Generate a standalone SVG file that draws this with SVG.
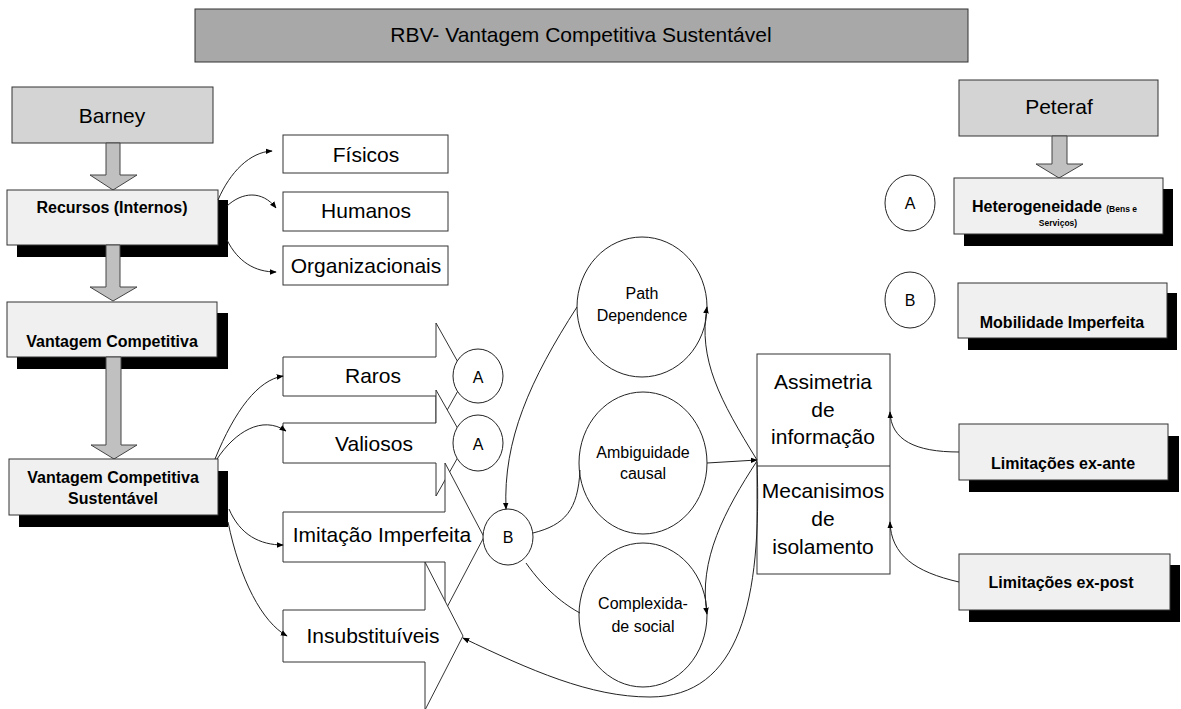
<svg xmlns="http://www.w3.org/2000/svg" width="1181" height="709" viewBox="0 0 1181 709">
<style>
text{font-family:"Liberation Sans",Arial,sans-serif;fill:#000;text-anchor:middle}
.n{font-size:21px}
.m{font-size:16px}
.b{font-size:16px;font-weight:bold}
.hdr{fill:#d4d4d4;stroke:#333;stroke-width:1}
.box{fill:#f0f0f0;stroke:#333;stroke-width:1}
.sh{fill:#000}
.wb{fill:#fff;stroke:#333;stroke-width:1}
.ba{fill:#c0c0c0;stroke:#444;stroke-width:1}
.ar{fill:#fff;stroke:#333;stroke-width:1}
.c{fill:#fff;stroke:#222;stroke-width:1}
.l{fill:none;stroke:#222;stroke-width:1;marker-end:url(#ah)}
.p{fill:none;stroke:#222;stroke-width:1}
</style>
<defs>
<marker id="ah" viewBox="0 0 10 10" refX="9" refY="5" markerWidth="7" markerHeight="7" markerUnits="userSpaceOnUse" orient="auto">
<path d="M0,1 L10,5 L0,9 Z" fill="#000"/>
</marker>
</defs>

<g id="title">
<rect x="195" y="9" width="773" height="53" fill="#a8a8a8" stroke="#333"/>
<text class="n" x="581" y="42">RBV- Vantagem Competitiva Sustentável</text>
</g>

<g id="barney">
<rect class="hdr" x="12" y="87" width="201" height="56"/>
<text class="n" x="112" y="123">Barney</text>
</g>
<path id="ba1" class="ba" d="M106,143 L120,143 L120,175 L137,175 L113,190 L90,175 L106,175 Z"/>

<g id="recursos">
<rect class="sh" x="17" y="200" width="211" height="57"/>
<rect class="box" x="7" y="190" width="211" height="55"/>
<text class="b" x="112" y="213">Recursos (Internos)</text>
</g>
<path id="ba2" class="ba" d="M106,245 L120,245 L120,287 L137,287 L113,301 L90,287 L106,287 Z"/>

<g id="vantagem">
<rect class="sh" x="17" y="313" width="211" height="56"/>
<rect class="box" x="7" y="302" width="210" height="55"/>
<text class="b" x="112" y="347">Vantagem Competitiva</text>
</g>
<path id="ba3" class="ba" d="M106,357 L121,357 L121,445 L137,445 L114,459 L91,445 L106,445 Z"/>

<g id="vcs">
<rect class="sh" x="19" y="471" width="209" height="56"/>
<rect class="box" x="9" y="459" width="209" height="56"/>
<text class="b" x="113" y="483">Vantagem Competitiva</text>
<text class="b" x="113" y="504">Sustentável</text>
</g>

<g id="fisicos"><rect class="wb" x="283" y="135" width="165" height="38"/><text class="n" x="366" y="162">Físicos</text></g>
<g id="humanos"><rect class="wb" x="283" y="192" width="165" height="39"/><text class="n" x="366" y="218">Humanos</text></g>
<g id="organizacionais"><rect class="wb" x="283" y="246" width="165" height="39"/><text class="n" x="366" y="273">Organizacionais</text></g>

<g id="raros"><path class="ar" d="M283,357 L436,357 L436,323 L466,376.5 L436,430 L436,396 L283,396 Z"/><text class="n" x="373" y="383">Raros</text></g>
<g id="valiosos"><path class="ar" d="M283,423 L436,423 L436,390 L466,443 L436,496 L436,463 L283,463 Z"/><text class="n" x="374" y="451">Valiosos</text></g>
<g id="imitacao"><path class="ar" d="M283,512 L445,512 L445,463 L484,537 L445,611 L445,562 L283,562 Z"/><text class="n" x="382" y="542">Imitação Imperfeita</text></g>
<g id="insubstituiveis"><path class="ar" d="M283,610 L425,610 L425,562 L463,636 L425,710 L425,662 L283,662 Z"/><text class="n" x="373" y="643">Insubstituíveis</text></g>

<g id="a1"><ellipse class="c" cx="478" cy="376" rx="25" ry="27"/><text class="m" x="478" y="383">A</text></g>
<g id="a2"><ellipse class="c" cx="478" cy="443" rx="25" ry="28"/><text class="m" x="478" y="450">A</text></g>
<g id="b1"><ellipse class="c" cx="508" cy="537" rx="25" ry="28"/><text class="m" x="508" y="543">B</text></g>

<g id="path-dependence"><ellipse class="c" cx="642" cy="307" rx="65" ry="70"/><text class="m" x="642" y="299">Path</text><text class="m" x="642" y="321">Dependence</text></g>
<g id="ambiguidade"><ellipse class="c" cx="643" cy="463" rx="64" ry="71"/><text class="m" x="643" y="458">Ambiguidade</text><text class="m" x="643" y="479">causal</text></g>
<g id="complexidade"><ellipse class="c" cx="643" cy="615" rx="64" ry="72"/><text class="m" x="643" y="609">Complexida-</text><text class="m" x="643" y="632">de social</text></g>

<g id="assimetria">
<rect class="wb" x="757" y="354" width="133" height="220"/>
<line x1="757" y1="466" x2="890" y2="466" stroke="#333"/>
<text class="n" x="823" y="389">Assimetria</text>
<text class="n" x="823" y="417">de</text>
<text class="n" x="823" y="444">informação</text>
<text class="n" x="823" y="498">Mecanisimos</text>
<text class="n" x="823" y="526">de</text>
<text class="n" x="823" y="554">isolamento</text>
</g>

<g id="peteraf">
<rect class="hdr" x="959" y="80" width="199" height="56"/>
<text class="n" x="1059" y="114">Peteraf</text>
</g>
<path id="ba4" class="ba" d="M1052,136 L1067,136 L1067,164 L1083,164 L1059,178 L1036,164 L1052,164 Z"/>

<g id="heterogeneidade">
<rect class="sh" x="964" y="189" width="209" height="57"/>
<rect class="box" x="954" y="178" width="209" height="56"/>
<text x="972" y="212" style="text-anchor:start;font-weight:bold;font-size:16px">Heterogeneidade <tspan style="font-size:8.5px">(Bens  e</tspan></text>
<text x="1058" y="226" style="font-weight:bold;font-size:8.5px">Serviços)</text>
</g>
<g id="mobilidade">
<rect class="sh" x="968" y="293" width="209" height="57"/>
<rect class="box" x="958" y="283" width="209" height="55"/>
<text class="b" x="1062" y="328">Mobilidade Imperfeita</text>
</g>
<g id="ca"><ellipse class="c" cx="910" cy="203" rx="25" ry="28"/><text class="m" x="910" y="209">A</text></g>
<g id="cb"><ellipse class="c" cx="910" cy="300" rx="25" ry="28"/><text class="m" x="910" y="306">B</text></g>

<g id="exante">
<rect class="sh" x="969" y="436" width="210" height="56"/>
<rect class="box" x="959" y="424" width="209" height="56"/>
<text class="b" x="1063" y="469">Limitações ex-ante</text>
</g>
<g id="expost">
<rect class="sh" x="969" y="565" width="211" height="57"/>
<rect class="box" x="959" y="554" width="211" height="56"/>
<text class="b" x="1061" y="588">Limitações ex-post</text>
</g>

<g id="connectors">
<path class="l" d="M218,200 C230,172 250,152 272,151"/>
<path class="l" d="M227,206 C242,192 262,190 276,208"/>
<path class="l" d="M227,240 C238,262 255,272 276,272"/>
<path class="l" d="M215,459 C235,410 258,380 283,376"/>
<path class="l" d="M217,459 C235,432 262,415 286,431"/>
<path class="l" d="M229,509 C240,535 260,545 283,545"/>
<path class="l" d="M228,522 C240,580 262,622 287,636"/>
<path class="l" d="M577,307 C530,380 503,440 506,509"/>
<path class="p" d="M533,533 C565,525 578,510 580,470"/>
<path class="p" d="M526,563 C545,590 565,605 580,613"/>
<path class="l" d="M707,463 L757,460"/>
<path class="l" d="M757,460 C720,400 698,360 707,307"/>
<path class="l" d="M757,461 C725,510 698,560 707,614"/>
<path class="l" d="M757,462 C762,600 740,697 650,697 C590,697 530,670 463,638"/>
<path class="l" d="M959,452 C915,452 891,440 890,412"/>
<path class="l" d="M959,582 C915,572 891,555 890,522"/>
</g>
</svg>
